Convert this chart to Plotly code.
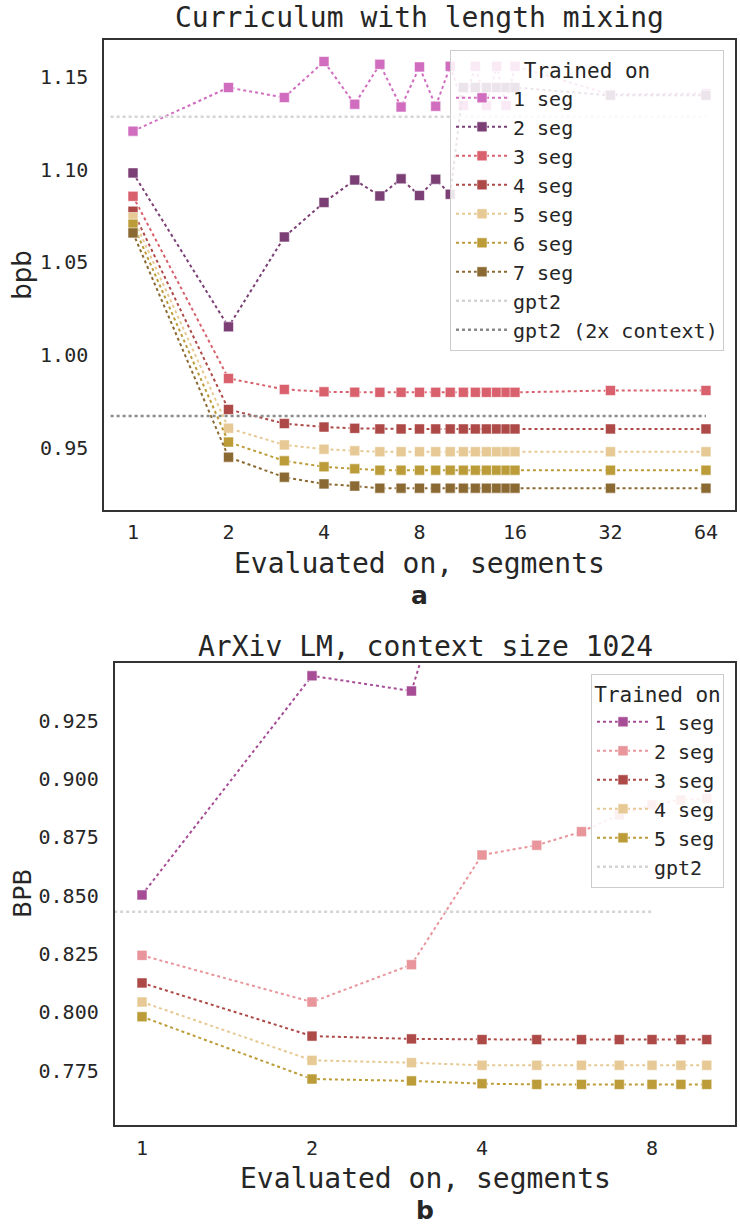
import plotly.graph_objects as go

# ---------------- data: panel a ----------------
segs_a = [1, 2, 3, 4, 5, 6, 7, 8, 9, 10, 11, 12, 13, 14, 15, 16, 32, 64]
names_a = ["1 seg", "2 seg", "3 seg", "4 seg", "5 seg", "6 seg", "7 seg"]
seg1_a = [1.1207, 1.1442, 1.1388, 1.1582, 1.1352, 1.1567, 1.1337, 1.1553, 1.1341,
          1.1556, 1.1345, 1.1556, 1.1345, 1.1556, 1.1345, 1.1556, 1.1405, 1.1410]
seg2_a = [1.0982, 1.0153, 1.0637, 1.0823, 1.0944, 1.0858, 1.0950, 1.0860, 1.0948,
          1.0867, 1.1442, 1.1442, 1.1442, 1.1442, 1.1442, 1.1442, 1.1400, 1.1400]
seg3_a = [1.0856, 0.9875, 0.9816, 0.9803, 0.9801, 0.9800, 0.9800, 0.9800, 0.9800,
          0.9800, 0.9800, 0.9800, 0.9800, 0.9800, 0.9800, 0.9800, 0.9810, 0.9810]
seg4_a = [1.0776, 0.9708, 0.9632, 0.9613, 0.9606, 0.9603, 0.9603, 0.9603, 0.9603,
          0.9603, 0.9603, 0.9603, 0.9603, 0.9603, 0.9603, 0.9603, 0.9603, 0.9603]
seg5_a = [1.0742, 0.9607, 0.9517, 0.9494, 0.9485, 0.9480, 0.9480, 0.9480, 0.9480,
          0.9480, 0.9480, 0.9480, 0.9480, 0.9480, 0.9480, 0.9480, 0.9480, 0.9480]
seg6_a = [1.0706, 0.9532, 0.9431, 0.9399, 0.9388, 0.9381, 0.9381, 0.9381, 0.9381,
          0.9381, 0.9381, 0.9381, 0.9381, 0.9381, 0.9381, 0.9381, 0.9381, 0.9381]
seg7_a = [1.0659, 0.9451, 0.9343, 0.9307, 0.9295, 0.9284, 0.9284, 0.9284, 0.9284,
          0.9284, 0.9284, 0.9284, 0.9284, 0.9284, 0.9284, 0.9284, 0.9284, 0.9284]
series_a = [seg1_a, seg2_a, seg3_a, seg4_a, seg5_a, seg6_a, seg7_a]
colors_a = ["#d16dbf", "#7b3f75", "#d9616e", "#ad4a48", "#e6c994", "#bb9c38", "#8a6a32"]
gpt2_a = 1.1284
gpt2_2x_a = 0.9673
ref_span_a = [0.85, 64]
xticks_a = [1, 2, 4, 8, 16, 32, 64]
yticks_a = [0.95, 1.00, 1.05, 1.10, 1.15]

# ---------------- data: panel b ----------------
segs_b = [1, 2, 3, 4, 5, 6, 7, 8, 9, 10]
names_b = ["1 seg", "2 seg", "3 seg", "4 seg", "5 seg"]
seg1_b = [0.8503, 0.9442, 0.9377, 1.0350]
seg2_b = [0.8244, 0.8044, 0.8204, 0.8674, 0.8716, 0.8774, 0.8846, 0.8889, 0.8910, 0.8917]
seg3_b = [0.8126, 0.7898, 0.7886, 0.7883, 0.7883, 0.7883, 0.7883, 0.7883, 0.7883, 0.7883]
seg4_b = [0.8044, 0.7794, 0.7784, 0.7773, 0.7773, 0.7773, 0.7773, 0.7773, 0.7773, 0.7773]
seg5_b = [0.7981, 0.7714, 0.7706, 0.7694, 0.7691, 0.7691, 0.7691, 0.7691, 0.7691, 0.7691]
series_b = [seg1_b, seg2_b, seg3_b, seg4_b, seg5_b]
colors_b = ["#a64d96", "#e8959b", "#ad4a48", "#e6c994", "#bb9c38"]
gpt2_b = 0.8431
ref_span_b = [0.85, 8]
xticks_b = [1, 2, 4, 8]
yticks_b = [0.775, 0.800, 0.825, 0.850, 0.875, 0.900, 0.925]

MONO = "DejaVu Sans Mono"
SANS = "DejaVu Sans"
TXT = "#262626"
W, H = 740, 1225

fig = go.Figure()


def add_series(xs, ys, name, color, xa, ya, leg):
    fig.add_trace(go.Scatter(
        x=xs[:len(ys)], y=ys, name=name, mode="lines+markers",
        line=dict(color=color, width=2, dash="dot"),
        marker=dict(symbol="square", size=10, color=color,
                    line=dict(color="rgba(255,255,255,0.55)", width=1)),
        xaxis=xa, yaxis=ya, legend=leg))


def add_ref(span, yv, name, color, xa, ya, leg):
    fig.add_trace(go.Scatter(
        x=span, y=[yv, yv], name=name, mode="lines",
        line=dict(color=color, width=2.5, dash="dot"),
        xaxis=xa, yaxis=ya, legend=leg))


for ys, nm, c in zip(series_a, names_a, colors_a):
    add_series(segs_a, ys, nm, c, "x", "y", "legend")
add_ref(ref_span_a, gpt2_a, "gpt2", "#d4d4d4", "x", "y", "legend")
add_ref(ref_span_a, gpt2_2x_a, "gpt2 (2x context)", "#8a8a8a", "x", "y", "legend")

for ys, nm, c in zip(series_b, names_b, colors_b):
    add_series(segs_b, ys, nm, c, "x2", "y2", "legend2")
add_ref(ref_span_b, gpt2_b, "gpt2", "#d4d4d4", "x2", "y2", "legend2")


def px_x(p):
    return p / W


def px_y(p):
    return 1 - p / H


axis_common = dict(showline=True, mirror=True, linecolor="#333333", linewidth=1.5,
                   showgrid=False, zeroline=False, ticks="",
                   tickfont=dict(family=MONO, size=20, color=TXT))

leg_common = dict(bgcolor="rgba(255,255,255,0.86)", bordercolor="#cccccc", borderwidth=1,
                  font=dict(family=MONO, size=20, color=TXT), xanchor="right", yanchor="top",
                  itemwidth=52,
                  title=dict(text="Trained on", side="top center",
                             font=dict(family=MONO, size=21, color=TXT)))

fig.update_layout(
    width=W, height=H, margin=dict(l=0, r=0, t=0, b=0),
    paper_bgcolor="white", plot_bgcolor="white",
    xaxis=dict(domain=[px_x(104), px_x(735)], anchor="y", type="log",
               range=[-0.0914, 1.8977], tickvals=xticks_a,
               ticktext=[str(v) for v in xticks_a], ticklabelstandoff=4, **axis_common),
    yaxis=dict(domain=[px_y(509.5), px_y(40)], anchor="x",
               range=[0.9169, 1.1698], tickvals=yticks_a, tickformat=".2f",
               ticklabelstandoff=10, **axis_common),
    xaxis2=dict(domain=[px_x(114.5), px_x(735)], anchor="y2", type="log",
                range=[-0.0487, 1.050], tickvals=xticks_b,
                ticktext=[str(v) for v in xticks_b], ticklabelstandoff=4, **axis_common),
    yaxis2=dict(domain=[px_y(1125), px_y(663)], anchor="x2",
                range=[0.7517, 0.9497], tickvals=yticks_b, tickformat=".3f",
                ticklabelstandoff=10, **axis_common),
    legend=dict(x=px_x(724), y=px_y(50), **leg_common),
    legend2=dict(x=px_x(724), y=px_y(674), **leg_common),
    showlegend=True,
)

ann = []


def text(x, y, s, size, family=MONO, angle=0):
    ann.append(dict(x=px_x(x), y=px_y(y), xref="paper", yref="paper", text=s,
                    showarrow=False, xanchor="center", yanchor="middle", textangle=angle,
                    font=dict(family=family, size=size, color=TXT)))


text(419.5, 18, "Curriculum with length mixing", 28)
text(419.5, 563, "Evaluated on, segments", 28)
text(419.5, 595, "<b>a</b>", 25, SANS)
text(22, 274.7, "bpb", 26, SANS, -90)

text(425, 646, "ArXiv LM, context size 1024", 28)
text(425, 1178, "Evaluated on, segments", 28)
text(425, 1210, "<b>b</b>", 25, SANS)
text(22, 894, "BPB", 25, SANS, -90)

fig.update_layout(annotations=ann)
fig.write_html("out.html")
